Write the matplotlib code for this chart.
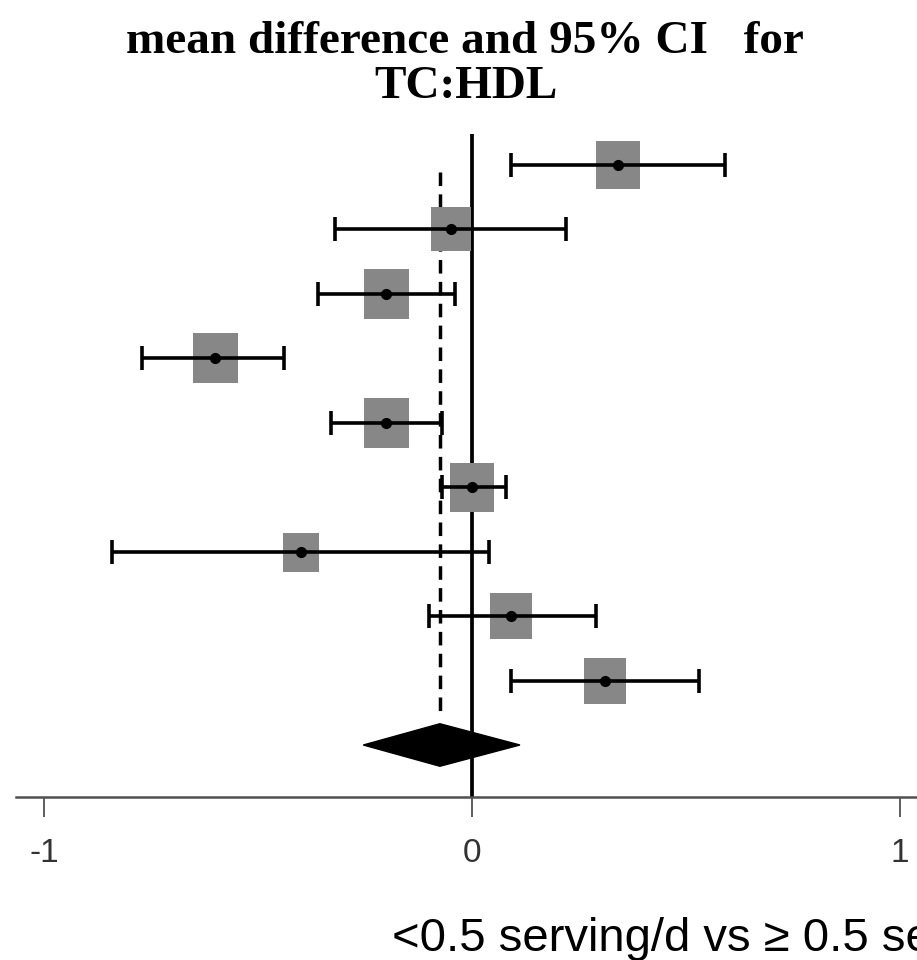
import numpy as np
import matplotlib
matplotlib.use("Agg")
import matplotlib.pyplot as plt
from matplotlib.patches import Polygon

# ---- data ----
means = [0.34, -0.05, -0.20, -0.60, -0.20, 0.00, -0.40, 0.09, 0.31]
lower = [0.09, -0.32, -0.36, -0.77, -0.33, -0.07, -0.84, -0.10, 0.09]
upper = [0.59, 0.22, -0.04, -0.44, -0.07, 0.08, 0.04, 0.29, 0.53]
pooled_mean = -0.075
pooled_lower = -0.254
pooled_upper = 0.112
box_heights_px = [48, 44, 50, 50, 50, 49, 39, 47, 46]   # square sizes (study weights)
tick_values = [-1, 0, 1]
tick_labels = ["-1", "0", "1"]
title_line1 = "mean difference and 95% CI   for"
title_line2 = "TC:HDL"
xlabel = "<0.5 serving/d vs \u2265 0.5 serving/d"

W, H = 917, 960
fig = plt.figure(figsize=(W / 100, H / 100), dpi=100)
ax = fig.add_axes([16 / W, 1 - 797 / H, (W - 16) / W, (797 - 134) / H])

means_a = np.array(means)
rows = np.arange(len(means_a))
xerr = [means_a - np.array(lower), np.array(upper) - means_a]

# vertical reference lines
ax.axvline(0, color="black", lw=2.7, zorder=1)
ax.plot([pooled_mean, pooled_mean], [0.11, 8.58], color="black", lw=2.5,
        ls=(0, (3.9, 2.4)), zorder=1)

# grey squares (slightly taller than wide, like the reference)
sq = [(-0.45, -0.5), (0.45, -0.5), (0.45, 0.5), (-0.45, 0.5), (-0.45, -0.5)]
for x, y, hpx in zip(means_a, rows, box_heights_px):
    ax.plot([x], [y], marker=sq, markersize=hpx * 0.72, color="#878787",
            markeredgewidth=0, linestyle="none", zorder=2)

# error bars
ax.errorbar(means_a, rows, xerr=xerr, fmt="none", ecolor="black",
            elinewidth=2.6, capsize=8.5, capthick=2.6, zorder=3)
ax.plot(means_a, rows, "o", color="black", markersize=7, zorder=4)

# pooled diamond
yd = len(means_a)
half_h = 0.33
diamond = Polygon([(pooled_lower, yd), (pooled_mean, yd - half_h),
                   (pooled_upper, yd), (pooled_mean, yd + half_h)],
                  closed=True, facecolor="black", edgecolor="black", lw=1, zorder=3)
ax.add_patch(diamond)

ax.set_xlim((16 - 472) / 428, (917 - 472) / 428)
ax.set_ylim(9 + (797 - 745) / 64.44, -(165 - 134) / 64.44)

for s in ["top", "right", "left"]:
    ax.spines[s].set_visible(False)
ax.spines["bottom"].set_color("#505050")
ax.spines["bottom"].set_linewidth(1.8)
ax.set_yticks([])
ax.set_xticks(tick_values)
ax.set_xticklabels(tick_labels, family=["Liberation Sans", "DejaVu Sans"])
ax.tick_params(axis="x", direction="out", length=14.4, width=1.3, color="#505050",
               labelsize=24, labelcolor="#333333", pad=15)

fig.text(465 / W, 1 - 53 / H, title_line1, ha="center", va="baseline",
         fontsize=34, fontweight="bold", family=["Liberation Serif", "DejaVu Serif"])
fig.text(466 / W, 1 - 98 / H, title_line2, ha="center", va="baseline",
         fontsize=34, fontweight="bold", family=["Liberation Serif", "DejaVu Serif"])
fig.text(392 / W, 1 - 951 / H, xlabel, ha="left", va="baseline",
         fontsize=34, family=["Liberation Sans", "DejaVu Sans"], color="black")

fig.savefig("out.png", dpi=100)
